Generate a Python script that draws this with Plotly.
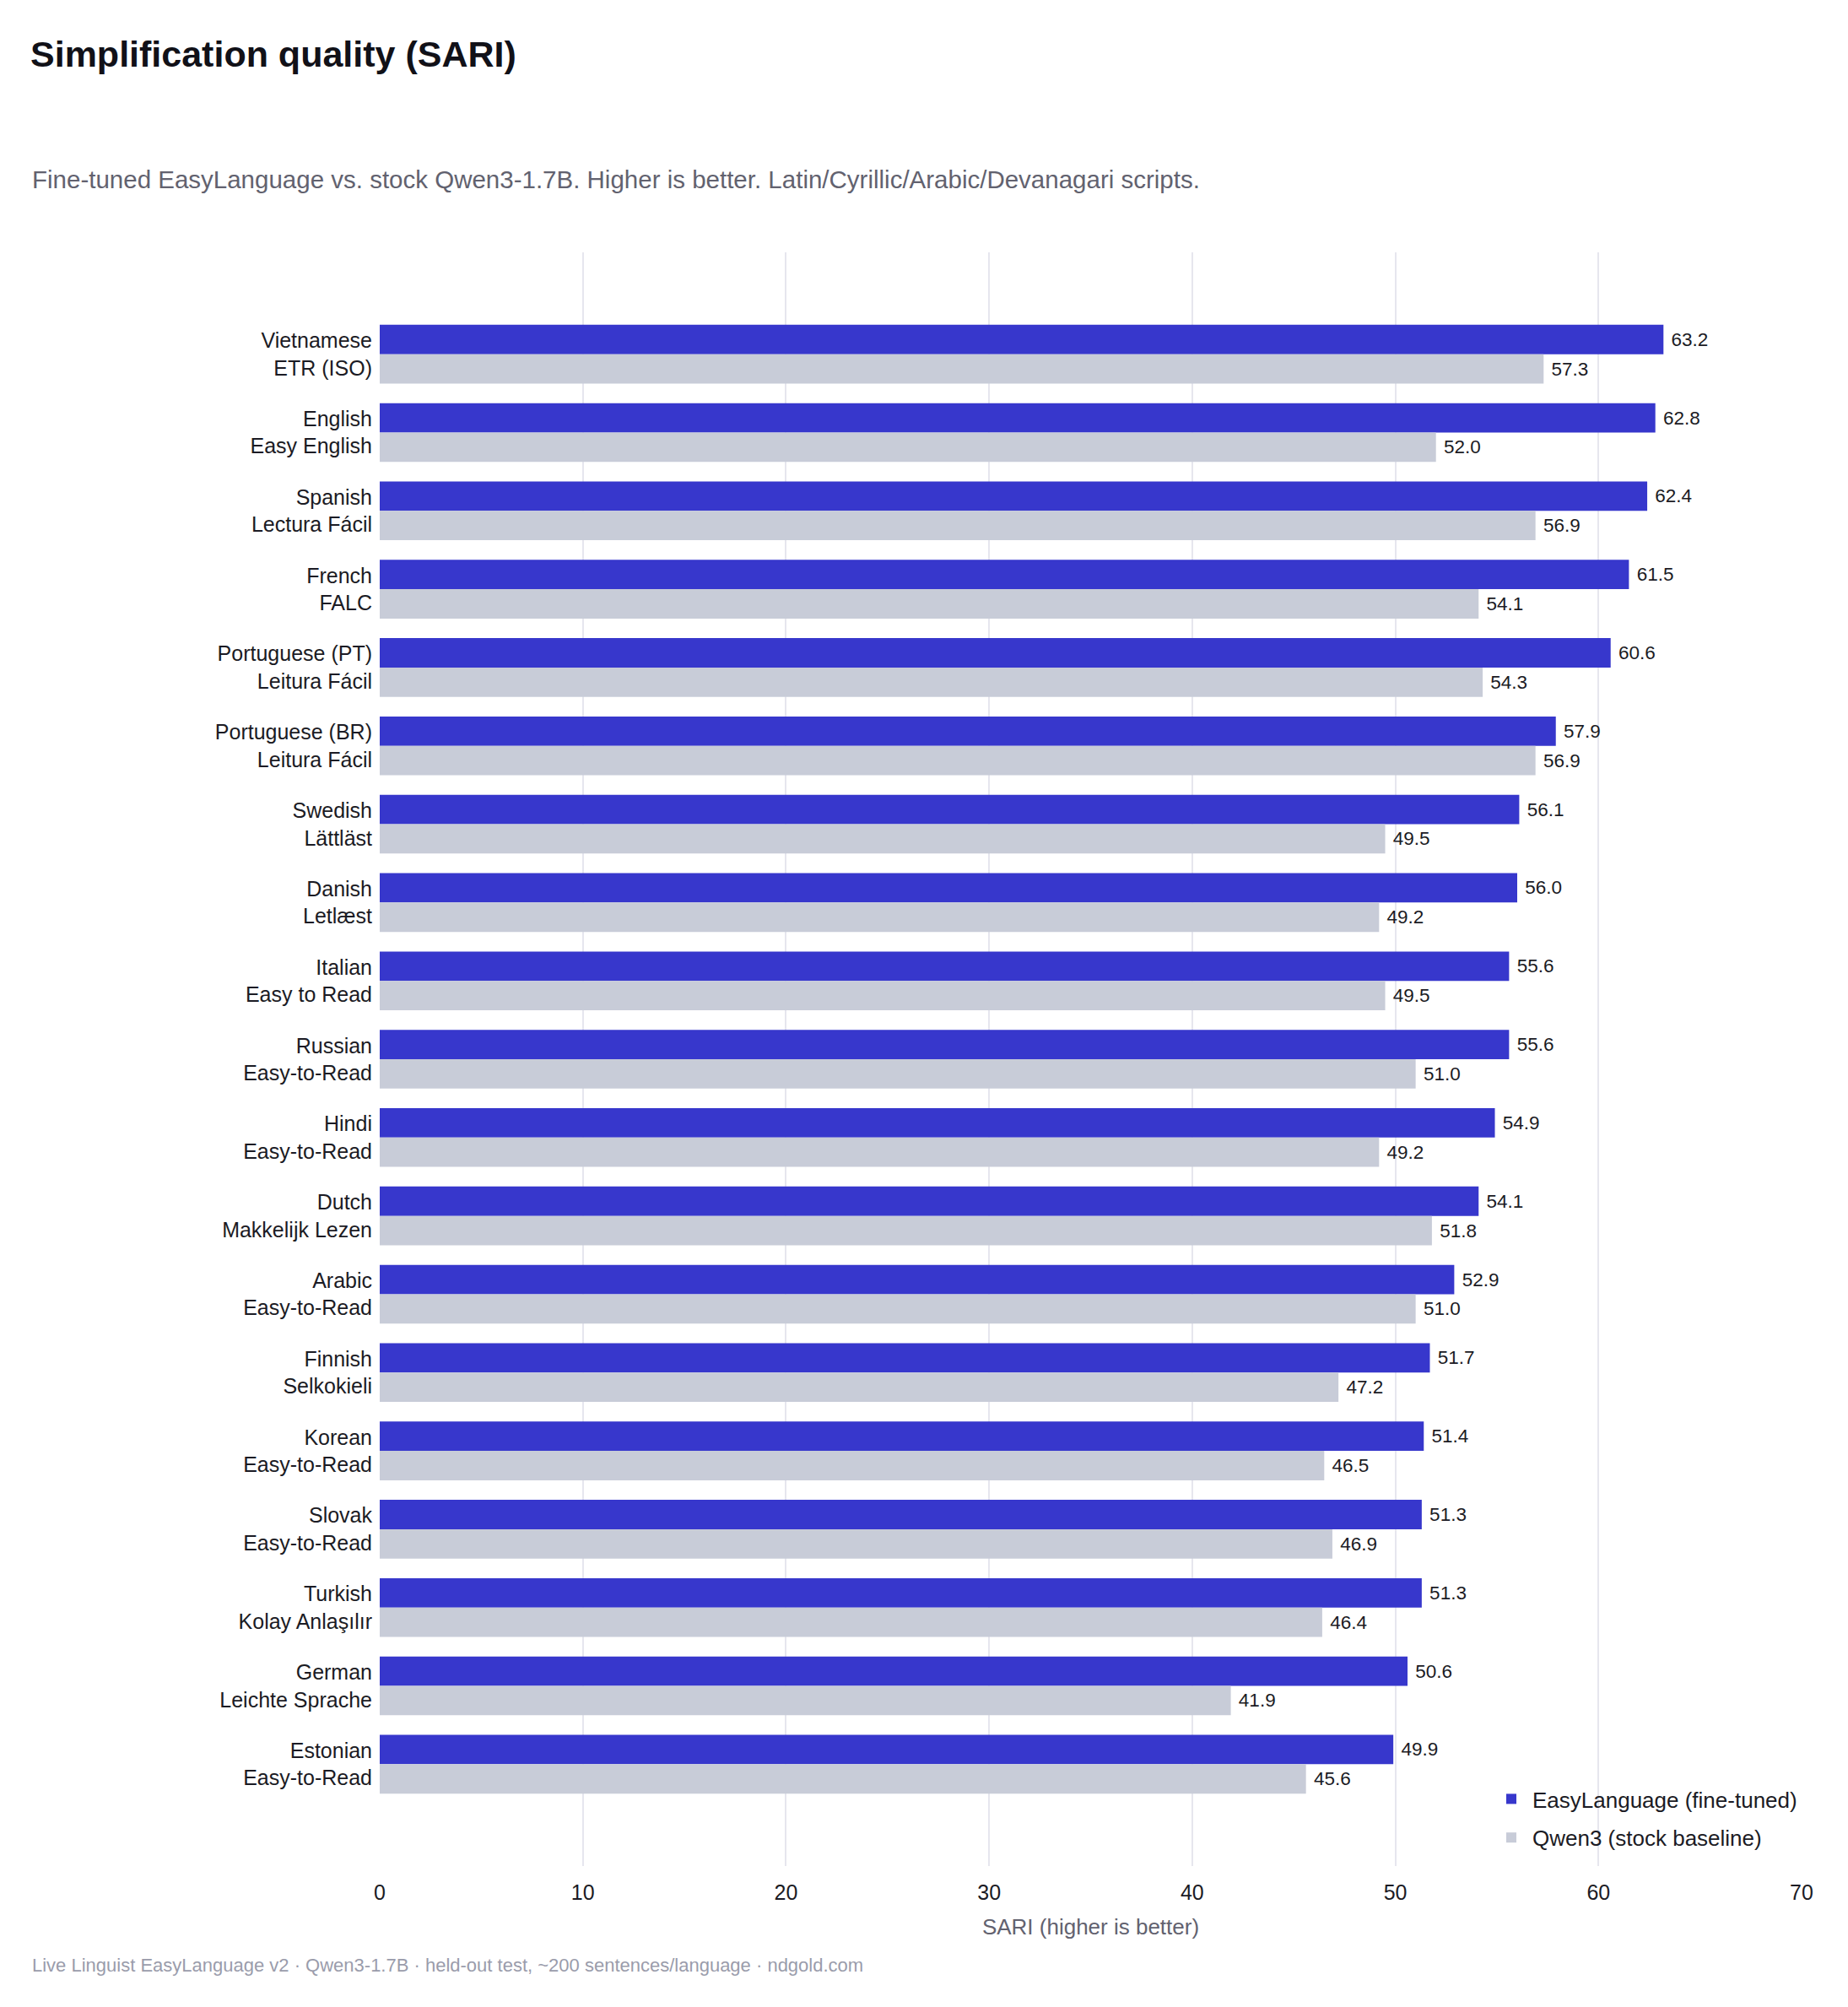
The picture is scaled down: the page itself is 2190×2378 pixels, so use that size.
import plotly.graph_objects as go

languages = ["Vietnamese", "English", "Spanish", "French", "Portuguese (PT)", "Portuguese (BR)",
             "Swedish", "Danish", "Italian", "Russian", "Hindi", "Dutch", "Arabic", "Finnish",
             "Korean", "Slovak", "Turkish", "German", "Estonian"]
standards = ["ETR (ISO)", "Easy English", "Lectura Fácil", "FALC", "Leitura Fácil", "Leitura Fácil",
             "Lättläst", "Letlæst", "Easy to Read", "Easy-to-Read", "Easy-to-Read", "Makkelijk Lezen",
             "Easy-to-Read", "Selkokieli", "Easy-to-Read", "Easy-to-Read", "Kolay Anlaşılır",
             "Leichte Sprache", "Easy-to-Read"]
easylanguage = [63.2, 62.8, 62.4, 61.5, 60.6, 57.9, 56.1, 56.0, 55.6, 55.6, 54.9, 54.1, 52.9,
                51.7, 51.4, 51.3, 51.3, 50.6, 49.9]
qwen3 = [57.3, 52.0, 56.9, 54.1, 54.3, 56.9, 49.5, 49.2, 49.5, 51.0, 49.2, 51.8, 51.0,
         47.2, 46.5, 46.9, 46.4, 41.9, 45.6]
x_ticks = [0, 10, 20, 30, 40, 50, 60, 70]

labels = [f"{l}<br>{s}" for l, s in zip(languages, standards)]

FONT = "Liberation Sans, Arial, Helvetica, sans-serif"
TEXT = "#1b1b24"
MUTED = "#62626f"

fig = go.Figure()
fig.add_trace(go.Bar(
    y=labels, x=easylanguage, orientation="h", name="EasyLanguage (fine-tuned)",
    legendgroup="a",
    marker=dict(color="#3737cc", line=dict(width=0)),
    texttemplate=" %{x:.1f}", textposition="outside",
    textfont=dict(size=22.5, color=TEXT, family=FONT), cliponaxis=False,
))
fig.add_trace(go.Bar(
    y=labels, x=qwen3, orientation="h", name="Qwen3 (stock baseline)",
    legendgroup="b",
    marker=dict(color="#c8ccd8", line=dict(width=0)),
    texttemplate=" %{x:.1f}", textposition="outside",
    textfont=dict(size=22.5, color=TEXT, family=FONT), cliponaxis=False,
))

W, H = 2190, 2378
L, R, T, B = 450, 55, 299, 167
pw, ph = W - L - R, H - T - B

def px_x(px):
    return (px - L) / pw

def px_y(py):
    return (H - B - py) / ph

fig.update_layout(
    width=W, height=H,
    margin=dict(l=L, r=R, t=T, b=B, autoexpand=False),
    paper_bgcolor="white", plot_bgcolor="white",
    font=dict(family=FONT, color=TEXT, size=25),
    barmode="group", bargap=0.25, bargroupgap=0,
    title=dict(
        text="<b>Simplification quality (SARI)</b>",
        font=dict(size=43, color="#111118", family=FONT),
        x=36 / W, xanchor="left", xref="container",
        y=1 - 64 / H, yanchor="middle", yref="container",
    ),
    legend=dict(
        x=1, xanchor="right", y=px_y(2108), yanchor="top",
        bgcolor="rgba(0,0,0,0)", font=dict(size=26, color=TEXT),
        traceorder="grouped", tracegroupgap=9, itemwidth=40,
    ),
    xaxis=dict(
        range=[0, 70], tickvals=x_ticks, showgrid=True, gridcolor="#e6e6ee", gridwidth=2,
        zeroline=False, showline=False, ticks="", ticklabelstandoff=14,
        tickfont=dict(size=25, color=TEXT),
        title=dict(text="SARI (higher is better)", font=dict(size=26, color=MUTED), standoff=18),
    ),
    yaxis=dict(
        autorange=False, range=[19.3, -1.3], showgrid=False, zeroline=False, showline=False,
        ticks="", ticklabelstandoff=8, tickfont=dict(size=25, color=TEXT),
    ),
    annotations=[
        dict(text="Fine-tuned EasyLanguage vs. stock Qwen3-1.7B. Higher is better. Latin/Cyrillic/Arabic/Devanagari scripts.",
             x=px_x(36), y=px_y(212), xref="paper", yref="paper", xanchor="left", yanchor="middle",
             showarrow=False, font=dict(size=29.5, color=MUTED)),
        dict(text="Live Linguist EasyLanguage v2 · Qwen3-1.7B · held-out test, ~200 sentences/language · ndgold.com",
             x=px_x(36), y=px_y(2328), xref="paper", yref="paper", xanchor="left", yanchor="middle",
             showarrow=False, font=dict(size=22, color="#9a9cab")),
    ],
)

fig.write_html("out.html")
